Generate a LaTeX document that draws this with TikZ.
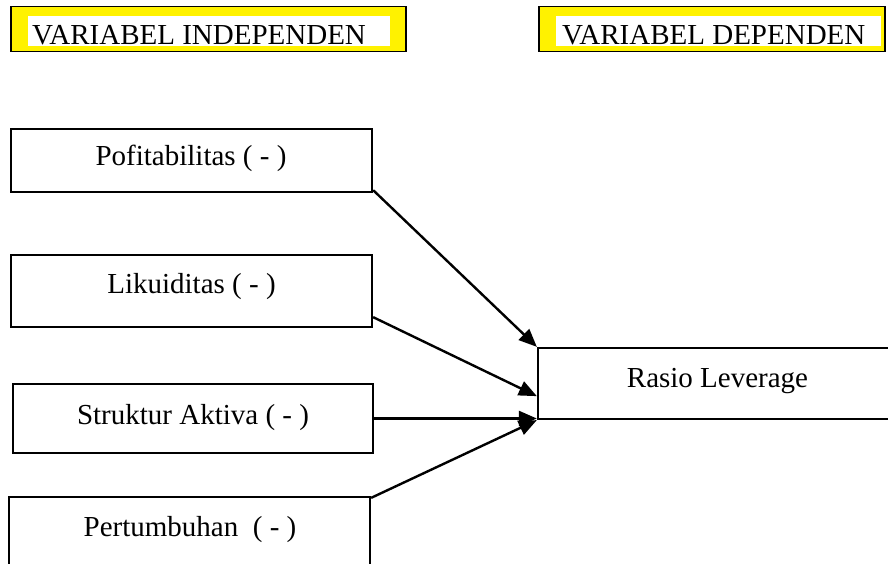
\documentclass[tikz,border=0pt]{standalone}
\usepackage{fontspec}
\setmainfont{Liberation Serif}
\usetikzlibrary{arrows.meta}
\tikzset{
  box/.style={draw=black, line width=2.3pt, rectangle, inner sep=0pt},
  lbl/.style={inner sep=0pt, anchor=base, font=\fontsize{29}{35}\selectfont},
  hdr/.style={draw=black, line width=1.6pt, fill=yellow, rectangle, inner sep=0pt},
  hdrin/.style={fill=white, rectangle, inner sep=0pt},
  arr/.style={line width=2.4pt, -{Triangle[length=18pt,width=15pt]}, shorten >=0pt}
}
\begin{document}
\begin{tikzpicture}[x=1pt,y=-1pt]
\useasboundingbox (0,0) rectangle (888,564);
\clip (0,0) rectangle (888,564);
% headers
\node[hdr, minimum width=395pt, minimum height=45pt] (h1) at (208.5,29) {};
\node[hdrin, minimum width=362pt, minimum height=30pt] (h1w) at (209,31.5) {};
\node[lbl, anchor=base west] (h1t) at (32,45) {VARIABEL INDEPENDEN};
\node[hdr, minimum width=346pt, minimum height=45pt] (h2) at (712,29) {};
\node[hdrin, minimum width=325pt, minimum height=30pt] (h2w) at (718.5,31.5) {};
\node[lbl, anchor=base west] (h2t) at (562,45) {VARIABEL DEPENDEN};
% boxes
\node[box, minimum width=361pt, minimum height=63pt] (pof) at (191.5,160.5) {};
\node[lbl] (poft) at (191,166) {Pofitabilitas ( - )};
\node[box, minimum width=361pt, minimum height=72pt] (lik) at (191.5,291) {};
\node[lbl] (likt) at (191.5,293) {Likuiditas ( - )};
\node[box, minimum width=360pt, minimum height=69pt] (str) at (193,418.5) {};
\node[lbl] (strt) at (193,424) {Struktur Aktiva ( - )};
\node[box, minimum width=361pt, minimum height=80pt] (per) at (189.5,537) {};
\node[lbl] (pert) at (190,536) {Pertumbuhan\ \ ( - )};
\node[box, minimum width=362pt, minimum height=71pt] (ras) at (719,383.5) {};
\node[lbl] (rast) at (717.5,387) {Rasio Leverage};
% connectors
\draw[arr] ([yshift=3pt]pof.south east) -- (ras.north west);
\draw[arr] ([yshift=11pt]lik.south east) -- ([yshift=24pt]ras.south west);
\draw[arr] (str.east) -- (str.east -| ras.west);
\draw[arr] ([yshift=-2pt]per.north east) -- (ras.south west);
\end{tikzpicture}
\end{document}
